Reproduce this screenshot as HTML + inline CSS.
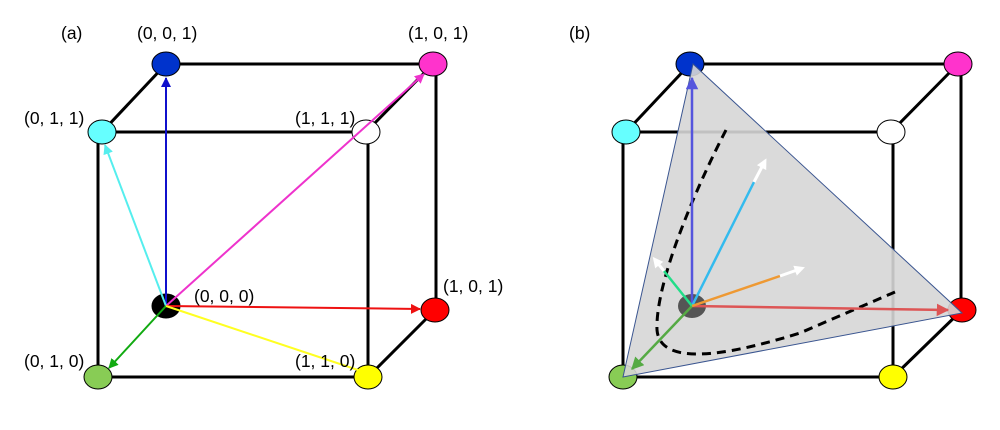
<!DOCTYPE html>
<html><head><meta charset="utf-8"><style>
html,body{margin:0;padding:0;background:#fff;}
svg{display:block;}
text{font-family:"Liberation Sans",sans-serif;font-size:17.5px;fill:#000;}
</style></head><body>
<svg width="1000" height="430" viewBox="0 0 1000 430">
<defs>
<marker id="mb" viewBox="0 0 10 10" refX="9" refY="5" markerWidth="5" markerHeight="5" orient="auto"><path d="M0,0L10,5L0,10z" fill="#1010cc"/></marker>
<marker id="mm" viewBox="0 0 10 10" refX="9" refY="5" markerWidth="5" markerHeight="5" orient="auto"><path d="M0,0L10,5L0,10z" fill="#ee33cc"/></marker>
<marker id="mc" viewBox="0 0 10 10" refX="9" refY="5" markerWidth="5" markerHeight="5" orient="auto"><path d="M0,0L10,5L0,10z" fill="#55eeee"/></marker>
<marker id="mr" viewBox="0 0 10 10" refX="9" refY="5" markerWidth="5" markerHeight="5" orient="auto"><path d="M0,0L10,5L0,10z" fill="#ee1111"/></marker>
<marker id="mg" viewBox="0 0 10 10" refX="9" refY="5" markerWidth="5" markerHeight="5" orient="auto"><path d="M0,0L10,5L0,10z" fill="#11aa11"/></marker>
<marker id="mb2" viewBox="0 0 10 10" refX="9" refY="5" markerWidth="5" markerHeight="5" orient="auto"><path d="M0,0L10,5L0,10z" fill="#5555dd"/></marker>
<marker id="mr2" viewBox="0 0 10 10" refX="9" refY="5" markerWidth="5" markerHeight="5" orient="auto"><path d="M0,0L10,5L0,10z" fill="#dd5555"/></marker>
<marker id="mg2" viewBox="0 0 10 10" refX="9" refY="5" markerWidth="5" markerHeight="5" orient="auto"><path d="M0,0L10,5L0,10z" fill="#55aa44"/></marker>
<marker id="mw" viewBox="0 0 10 10" refX="5" refY="5" markerWidth="3.5" markerHeight="3.5" orient="auto"><path d="M0,0L10,5L0,10z" fill="#fff"/></marker>
</defs>

<!-- (a) -->
<g stroke="#000" stroke-width="3" fill="none">
<line x1="166" y1="64" x2="433" y2="64"/>
<line x1="102" y1="132" x2="366" y2="132"/>
<line x1="98" y1="132" x2="98" y2="377"/>
<line x1="368" y1="132" x2="368" y2="377"/>
<line x1="436" y1="64" x2="436" y2="310"/>
<line x1="98" y1="377" x2="368" y2="377"/>
<line x1="102" y1="132" x2="166" y2="64"/>
<line x1="366" y1="132" x2="433" y2="64"/>
<line x1="368" y1="377" x2="435" y2="310"/>
</g>
<ellipse cx="166" cy="64" rx="14" ry="12" fill="#0033cc" stroke="#000"/>
<ellipse cx="433" cy="64" rx="14" ry="12" fill="#ff33cc" stroke="#000"/>
<ellipse cx="102" cy="132" rx="14" ry="12" fill="#66ffff" stroke="#000"/>
<ellipse cx="366" cy="132" rx="14" ry="12" fill="#fff" stroke="#000"/>
<ellipse cx="166" cy="306" rx="14" ry="12" fill="#000" stroke="#000"/>
<ellipse cx="435" cy="310" rx="14" ry="12" fill="#ff0000" stroke="#000"/>
<ellipse cx="98" cy="377" rx="14" ry="12" fill="#88cc55" stroke="#000"/>
<ellipse cx="368" cy="377" rx="14" ry="12" fill="#ffff00" stroke="#000"/>
<g stroke-width="2" fill="none">
<line x1="166" y1="306" x2="166" y2="78" stroke="#1010cc" marker-end="url(#mb)"/>
<line x1="166" y1="306" x2="424" y2="74" stroke="#ee33cc" marker-end="url(#mm)"/>
<line x1="166" y1="306" x2="105" y2="145" stroke="#55eeee" marker-end="url(#mc)"/>
<line x1="166" y1="306" x2="420" y2="309" stroke="#ee1111" marker-end="url(#mr)"/>
<line x1="166" y1="306" x2="109" y2="368" stroke="#11aa11" marker-end="url(#mg)"/>
<line x1="166" y1="306" x2="358" y2="370" stroke="#ffff22"/>
</g>
<text x="61" y="39">(a)</text>
<text x="137" y="39">(0, 0, 1)</text>
<text x="408" y="39">(1, 0, 1)</text>
<text x="24" y="124">(0, 1, 1)</text>
<text x="295" y="124">(1, 1, 1)</text>
<text x="194" y="302">(0, 0, 0)</text>
<text x="443" y="292">(1, 0, 1)</text>
<text x="24" y="367">(0, 1, 0)</text>
<text x="295" y="367">(1, 1, 0)</text>

<!-- (b) -->
<text x="569" y="39">(b)</text>
<g stroke="#000" stroke-width="3" fill="none">
<line x1="690" y1="64" x2="958" y2="64"/>
<line x1="626" y1="132" x2="891" y2="132"/>
<line x1="623" y1="132" x2="623" y2="377"/>
<line x1="893" y1="132" x2="893" y2="377"/>
<line x1="961" y1="64" x2="961" y2="310"/>
<line x1="623" y1="377" x2="893" y2="377"/>
<line x1="626" y1="132" x2="690" y2="64"/>
<line x1="891" y1="132" x2="958" y2="64"/>
<line x1="893" y1="377" x2="962" y2="310"/>
</g>
<ellipse cx="690" cy="64" rx="14" ry="12" fill="#0033cc" stroke="#000"/>
<ellipse cx="958" cy="64" rx="14" ry="12" fill="#ff33cc" stroke="#000"/>
<ellipse cx="626" cy="132" rx="14" ry="12" fill="#66ffff" stroke="#000"/>
<ellipse cx="891" cy="132" rx="14" ry="12" fill="#fff" stroke="#000"/>
<ellipse cx="962" cy="310" rx="14" ry="12" fill="#ff0000" stroke="#000"/>
<ellipse cx="623" cy="377" rx="14" ry="12" fill="#88cc55" stroke="#000"/>
<ellipse cx="893" cy="377" rx="14" ry="12" fill="#ffff00" stroke="#000"/>
<polygon points="693,64 623,377 962,313" fill="#d6d6d6" fill-opacity="0.9" stroke="#3a5590" stroke-width="1"/>
<ellipse cx="692" cy="306" rx="14" ry="12" fill="#555"/>
<path d="M726,130 C700,180 655,280 657,330 C660,365 720,358 800,333 L895,292" fill="none" stroke="#000" stroke-width="3" stroke-dasharray="9,6"/>
<g stroke-width="2.5" fill="none">
<line x1="692" y1="306" x2="692" y2="78" stroke="#5555dd" marker-end="url(#mb2)"/>
<line x1="692" y1="306" x2="948" y2="310" stroke="#dd5555" marker-end="url(#mr2)"/>
<line x1="692" y1="306" x2="632" y2="369" stroke="#55aa44" marker-end="url(#mg2)"/>
<line x1="692" y1="306" x2="754" y2="182" stroke="#33bbee"/>
<line x1="754" y1="182" x2="764" y2="163" stroke="#fff" stroke-width="3" marker-end="url(#mw)"/>
<line x1="692" y1="306" x2="664" y2="271" stroke="#22dd88"/>
<line x1="664" y1="271" x2="656" y2="261" stroke="#fff" stroke-width="3" marker-end="url(#mw)"/>
<line x1="692" y1="306" x2="780" y2="276" stroke="#ee9933"/>
<line x1="780" y1="276" x2="800" y2="269" stroke="#fff" stroke-width="3" marker-end="url(#mw)"/>
</g>
</svg>
</body></html>
